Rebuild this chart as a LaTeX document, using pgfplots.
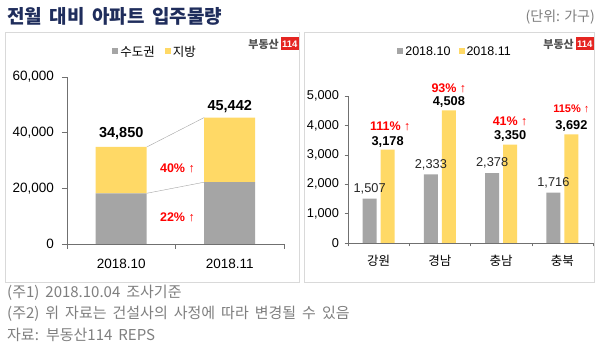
\documentclass[border=0pt]{standalone}
\usepackage{pgfplots}
\pgfplotsset{compat=1.18}
\usepackage{fontspec}
\setmainfont{Liberation Sans}
\newfontfamily\kr{Noto Sans CJK KR}
\definecolor{bgray}{HTML}{A5A5A5}
\definecolor{byel}{HTML}{FFD966}
\definecolor{navy}{HTML}{1F2D5C}
\definecolor{ftgray}{HTML}{7F7F7F}
\definecolor{pgray}{HTML}{D9D9D9}
\definecolor{axgray}{HTML}{707070}
\definecolor{logored}{HTML}{E52521}
\definecolor{logotext}{HTML}{505050}
\newcommand\fs[1]{\fontsize{#1}{#1}\selectfont}
\newcommand\ws{\spaceskip=0.4em\relax}
\pgfplotsset{/pgf/number format/.cd,1000 sep={,},assume math mode=true}
\pgfplotsset{sq legend/.style={legend image code/.code={\fill[##1] (0pt,-2.5pt) rectangle (6pt,3.5pt);}}}
\newcommand\logo[2]{%
  \node[anchor=east, inner sep=0pt, font=\kr\bfseries\fs{11}, text=logotext] at (#1,#2) {부동산};
  \node[anchor=west, fill=logored, text=white, font=\bfseries\fs{9.5}, inner xsep=1.5pt, inner ysep=0pt, minimum height=13pt] at ({#1+1.5},#2) {114};}
\begin{document}
\begin{tikzpicture}[x=1pt,y=1pt]
\path[use as bounding box, fill=white] (0,0) rectangle (600,352);
\node[anchor=west, inner sep=0pt, text=navy, font=\kr\bfseries\fs{19}] at (7,336) {\ws 전월 대비 아파트 입주물량};
\node[anchor=east, inner sep=0pt, text=ftgray, font=\kr\fs{14}] at (595,335) {(단위: 가구)};
\draw[pgray, line width=0.8pt] (5,320) rectangle (299,70);
\draw[pgray, line width=0.8pt] (304,320) rectangle (594,70);
\logo{279}{308}
\logo{574}{308}
\node[anchor=west, inner sep=0pt, text=ftgray, font=\kr\fs{15}] at (7,59) {\ws (주1) 2018.10.04 조사기준};
\node[anchor=west, inner sep=0pt, text=ftgray, font=\kr\fs{15}] at (7,38) {\ws (주2) 위 자료는 건설사의 사정에 따라 변경될 수 있음};
\node[anchor=west, inner sep=0pt, text=ftgray, font=\kr\fs{15}] at (7,17) {\ws 자료: 부동산114 REPS};

\begin{axis}[
  at={(67pt,108pt)}, anchor=south west, scale only axis, width=217pt, height=167pt,
  ybar stacked, bar width=51pt, clip=false,
  xmin=-0.5, xmax=1.5, ymin=0, ymax=60000,
  axis x line*=bottom, axis y line*=left, axis line style={axgray,-},
  tick align=outside, major tick length=5pt, tick style={axgray, thin},
  xtick={-0.5,0.5,1.5}, xticklabels={,,},
  extra x ticks={0,1}, extra x tick labels={2018.10,2018.11},
  extra x tick style={major tick length=0pt, tick label style={yshift=-12pt}},
  ytick={0,20000,40000,60000}, scaled y ticks=false,
  tick label style={font=\fs{13.5}},
  y tick label style={xshift=-4.5pt},
  legend style={at={(0.406,1.15)}, anchor=center, draw=none, fill=none, legend columns=-1,
    font=\kr\fs{12.5}, /tikz/every even column/.append style={column sep=8pt}},
]
\addplot[fill=bgray, draw=none, sq legend] coordinates {(0,18217) (1,22209)};
\addplot[fill=byel, draw=none, sq legend] coordinates {(0,16633) (1,23233)};
\legend{수도권,지방}
\draw[bgray, thin] (axis cs:0.235,34850) -- (axis cs:0.765,45442);
\draw[bgray, thin] (axis cs:0.235,18217) -- (axis cs:0.765,22209);
\node[font=\fs{13}] at (axis cs:0,9108) {18,217};
\node[font=\fs{13}] at (axis cs:0,26533) {16,633};
\node[font=\fs{13}] at (axis cs:1,11104) {22,209};
\node[font=\fs{13}] at (axis cs:1,33825) {23,233};
\node[font=\bfseries\fs{14.5}, yshift=13pt] at (axis cs:0,34850) {34,850};
\node[font=\bfseries\fs{14.5}, yshift=11pt] at (axis cs:1,45442) {45,442};
\node[font=\bfseries\fs{12.5}, text=red] at (axis cs:0.518,27305) {40\% ↑};
\node[font=\bfseries\fs{12.5}, text=red] at (axis cs:0.518,9700) {22\% ↑};
\end{axis}

\begin{axis}[
  at={(348pt,109pt)}, anchor=south west, scale only axis, width=245pt, height=147pt,
  ybar, bar width=14pt, clip=false,
  xmin=-0.5, xmax=3.5, ymin=0, ymax=5000,
  axis x line*=bottom, axis y line*=left, axis line style={axgray,-},
  tick align=outside, major tick length=3.5pt, tick style={axgray, thin},
  xtick={-0.5,0.5,1.5,2.5,3.5}, xticklabels={,,,,},
  extra x ticks={0,1,2,3}, extra x tick labels={{\kr 강원},{\kr 경남},{\kr 충남},{\kr 충북}},
  extra x tick style={major tick length=0pt, tick label style={yshift=-9pt, font=\kr\fs{12.5}}},
  ytick={0,1000,2000,3000,4000,5000}, scaled y ticks=false,
  tick label style={font=\fs{12.8}},
  y tick label style={xshift=-2pt},
  legend style={at={(0.437,1.30)}, anchor=center, draw=none, fill=none, legend columns=-1,
    font=\fs{12.5}, /tikz/every even column/.append style={column sep=6pt}},
]
\addplot[fill=bgray, draw=none, bar shift=-9pt, sq legend, nodes near coords,
  every node near coord/.append style={font=\fs{12.8}, text=black!85, yshift=1pt}]
  coordinates {(0,1507) (1,2333) (2,2378) (3,1716)};
\addplot[fill=byel, draw=none, bar shift=9pt, sq legend, nodes near coords,
  every node near coord/.append style={font=\bfseries\fs{12.8}, text=black, yshift=-1pt}]
  coordinates {(0,3178) (1,4508) (2,3350) (3,3692)};
\legend{2018.10,2018.11}
\node[font=\bfseries\fs{12.5}, text=red, yshift=23.5pt] at (axis cs:0.19,3178) {111\% ↑};
\node[font=\bfseries\fs{12.5}, text=red, yshift=22.5pt] at (axis cs:1.147,4508) {93\% ↑};
\node[font=\bfseries\fs{12.5}, text=red, yshift=23.5pt] at (axis cs:2.147,3350) {41\% ↑};
\node[font=\bfseries\fs{11}, text=red, yshift=25.5pt] at (axis cs:3.147,3692) {115\% ↑};
\end{axis}
\end{tikzpicture}
\end{document}
